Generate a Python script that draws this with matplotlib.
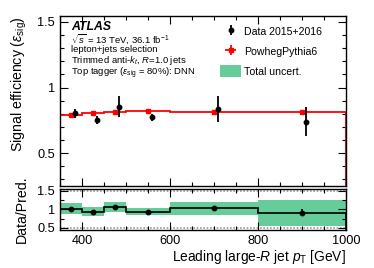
import numpy as np
import matplotlib
matplotlib.use("Agg")
import matplotlib.pyplot as plt
from matplotlib.ticker import MultipleLocator, FixedLocator
from matplotlib.patches import Patch

plt.rcParams['font.family'] = ['Liberation Sans', 'DejaVu Sans']
plt.rcParams['mathtext.fontset'] = 'custom'
plt.rcParams['mathtext.rm'] = 'Liberation Sans'
plt.rcParams['mathtext.it'] = 'Liberation Sans:italic'
plt.rcParams['mathtext.bf'] = 'Liberation Sans:bold'

# ---- data ----
bin_edges = [350, 400, 450, 500, 600, 800, 1000]
mc_eff = [0.794, 0.807, 0.812, 0.822, 0.814, 0.814]
data_eff = [0.804, 0.753, 0.855, 0.773, 0.837, 0.740]
data_err = [0.035, 0.028, 0.080, 0.028, 0.100, 0.110]
ratio_stat_err = [0.03, 0.03, 0.05, 0.02, 0.06, 0.09]
total_unc = [0.15, 0.12, 0.135, 0.10, 0.18, 0.35]
x_ticks = [400, 600, 800, 1000]

edges = np.array(bin_edges, dtype=float)
centers = 0.5 * (edges[:-1] + edges[1:])
mc = np.array(mc_eff)
dat = np.array(data_eff)
ratio = dat / mc

W, H = 374, 268
fig = plt.figure(figsize=(W / 100, H / 100), dpi=100)

def ax_rect(l, r, t, b):
    return [l / W, 1 - b / H, (r - l) / W, (b - t) / H]

ax = fig.add_axes(ax_rect(60, 346, 16, 186))
rax = fig.add_axes(ax_rect(60, 346, 189, 230))

# ---- main panel ----
ax.stairs(mc, edges, color='red', lw=1.3, zorder=2)
ax.plot(centers, mc, 's', color='red', ms=3.2, zorder=3)
ax.errorbar(centers + 10, dat, yerr=data_err, fmt='o', color='black',
            ms=3.2, elinewidth=1.3, capsize=0, zorder=4)

ax.set_xlim(350, 1000)
ax.set_ylim(0.25, 1.545)
ax.yaxis.set_major_locator(FixedLocator([0.5, 1.0, 1.5]))
ax.yaxis.set_major_formatter(matplotlib.ticker.FuncFormatter(lambda v, p: f"{v:g}"))
ax.yaxis.set_minor_locator(MultipleLocator(0.1))
ax.xaxis.set_major_locator(FixedLocator(x_ticks))
ax.xaxis.set_minor_locator(MultipleLocator(50))
ax.tick_params(labelbottom=False)
ax.set_ylabel(r'Signal efficiency ($\epsilon_{\mathrm{sig}}$)', fontsize=10.2,
              loc='top', labelpad=6)

# text block
ax.text(0.04, 0.935, 'ATLAS', transform=ax.transAxes, fontsize=8.8,
        fontweight='bold', fontstyle='italic', va='center', ha='left')
small = 6.8
ax.text(0.04, 0.865, r'$\sqrt{s}$ = 13 TeV, 36.1 fb$^{-1}$', transform=ax.transAxes,
        fontsize=small, va='center', ha='left')
ax.text(0.04, 0.801, 'lepton+jets selection', transform=ax.transAxes,
        fontsize=small, va='center', ha='left')
ax.text(0.04, 0.739, r'Trimmed anti-$k_{t}$, $R$=1.0 jets', transform=ax.transAxes,
        fontsize=small, va='center', ha='left')
ax.text(0.04, 0.660, r'Top tagger ($\epsilon_{\mathrm{sig}}$ = 80%): DNN',
        transform=ax.transAxes, fontsize=small, va='center', ha='left')

# legend
eb = ax.errorbar([], [], yerr=[], fmt='o', color='black', ms=3.2, elinewidth=1.3)
rp = ax.errorbar([], [], yerr=[], xerr=[], fmt='s', color='red', ms=3.2, elinewidth=1.3)
patch = Patch(facecolor='#66cc99', edgecolor='none')
ax.legend([eb, rp, patch], ['Data 2015+2016', 'PowhegPythia6', 'Total uncert.'],
          loc='upper left', bbox_to_anchor=(0.56, 0.945), frameon=False,
          fontsize=7.6, handlelength=2.0, handleheight=1.4, handletextpad=0.3,
          labelspacing=0.72, borderaxespad=0, borderpad=0)

# ---- ratio panel ----
for i in range(len(centers)):
    rax.fill_between([edges[i], edges[i + 1]], ratio[i] - total_unc[i],
                     ratio[i] + total_unc[i], color='#66cc99', lw=0, zorder=1)
rax.stairs(ratio, edges, color='black', lw=1.2, zorder=3)
rax.errorbar(centers, ratio, yerr=ratio_stat_err, fmt='o', color='black',
             ms=3.2, elinewidth=1.3, capsize=0, zorder=4)
for yv in (0.5, 1.5):
    rax.axhline(yv, color='#999999', ls=(0, (1, 1)), lw=1.2, zorder=0)

rax.set_xlim(350, 1000)
rax.set_ylim(0.44, 1.55)
rax.yaxis.set_major_locator(FixedLocator([0.5, 1.0, 1.5]))
rax.yaxis.set_major_formatter(matplotlib.ticker.FuncFormatter(lambda v, p: f"{v:g}"))
rax.yaxis.set_minor_locator(MultipleLocator(0.25))
rax.xaxis.set_major_locator(FixedLocator(x_ticks))
rax.xaxis.set_minor_locator(MultipleLocator(50))
rax.set_ylabel('Data/Pred.', fontsize=10.2, labelpad=6)
rax.set_xlabel(r'Leading large-$R$ jet $p_{\mathrm{T}}$ [GeV]', fontsize=9.9,
               loc='right', labelpad=1)

for a in (ax, rax):
    a.tick_params(which='both', direction='in', top=True, right=True,
                  labelsize=9.2, width=0.8)
    a.tick_params(which='major', length=6)
    a.tick_params(which='minor', length=3)
    for s in a.spines.values():
        s.set_linewidth(1.0)

fig.align_ylabels([ax, rax])
fig.savefig('out.png', dpi=100)
